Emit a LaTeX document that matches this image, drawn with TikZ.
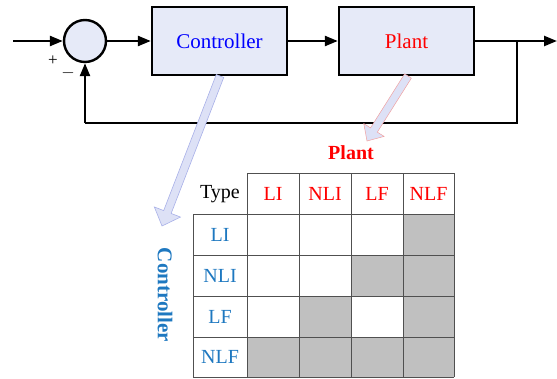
\documentclass[tikz,border=0pt]{standalone}
\usepackage{fontspec}
\setmainfont{Liberation Serif}
\usetikzlibrary{calc,arrows.meta}
\definecolor{boxfill}{HTML}{E6EAF8}
\definecolor{ctrlblue}{HTML}{1E78C0}
\definecolor{cellgrey}{HTML}{C0C0C0}
\definecolor{gridline}{HTML}{505050}
\definecolor{fatfill}{HTML}{DDE1F6}
\definecolor{fatblue}{HTML}{A8B0E8}
\definecolor{fatred}{HTML}{F0A0A0}
\tikzset{
  blockbox/.style={draw, line width=2.4pt, fill=boxfill, minimum width=135pt, minimum height=68pt, font=\fontsize{21}{24}\selectfont},
  sumnode/.style={draw, circle, line width=2.4pt, fill=boxfill, minimum size=42pt, inner sep=0pt},
  sig/.style={line width=2.4pt, -{Triangle[length=13pt,width=10pt]}},
  wire/.style={line width=2.4pt},
  cellgrid/.style={draw=gridline, line width=1pt},
  tabtext/.style={font=\fontsize{20}{23}\selectfont},
}
% fat hollow arrow: #1 start, #2 tip, #3 shaft half-width, #4 head half-width, #5 head length, #6 style
\newcommand{\fatarrow}[6]{%
  \path coordinate (fa-h) at ($(#2)!#5!(#1)$);
  \draw[#6]
    ($(#1)!#3!-90:(#2)$) -- ($(fa-h)!#3!90:(#1)$) -- ($(fa-h)!#4!90:(#1)$) -- (#2)
    -- ($(fa-h)!#4!-90:(#1)$) -- ($(fa-h)!#3!-90:(#1)$) -- ($(#1)!#3!90:(#2)$) -- cycle;
}
\begin{document}
\begin{tikzpicture}[x=1pt,y=-1pt]
\useasboundingbox (0,0) rectangle (557,378);

% block diagram
\coordinate (in) at (13,41);
\node[sumnode] (sum) at (85,41) {};
\node[blockbox, text=blue] (ctrl) at (219.5,41) {Controller};
\node[blockbox, text=red] (plant) at (406.5,41) {Plant};
\coordinate (branch) at (517,41);
\coordinate (out) at (557,41);
\coordinate (fbR) at (517,123);
\coordinate (fbL) at (85,123);

\draw[sig] (in) -- (sum.west);
\draw[sig] (sum.east) -- (ctrl.west);
\draw[sig] (ctrl.east) -- (plant.west);
\draw[sig] (plant.east) -- (out);
\draw[wire] (branch) -- (fbR) -- (fbL);
\draw[sig] (fbL) -- (sum.south);
\node[font=\fontsize{17}{19}\selectfont] (plus) at (53,61) {+};
\node[font=\fontsize{17}{19}\selectfont] (minus) at (68,73) {$-$};

% hollow pointer arrows
\coordinate (ca1) at (220,76);
\coordinate (ca2) at (162,226);
\fatarrow{ca1}{ca2}{4pt}{14pt}{15pt}{draw=fatblue, fill=fatfill, line width=0.6pt}
\coordinate (pa1) at (408,76);
\coordinate (pa2) at (367,141);
\fatarrow{pa1}{pa2}{4pt}{12pt}{13pt}{draw=fatred, fill=fatfill, line width=0.5pt}

% axis labels
\node[font=\bfseries\fontsize{20}{23}\selectfont, text=red] (plantlbl) at (351,153) {Plant};
\node[font=\bfseries\fontsize{21}{24}\selectfont, text=ctrlblue, rotate=-90] (ctrllbl) at (165,295) {Controller};

% combination table
\def\cx{{193,247,299,351,403,454}}
\def\ry{{173,214,255,296,337,377}}
% shaded cells (row, column) with rows/columns counted from 1
\foreach \r/\c in {1/4, 2/3, 2/4, 3/2, 3/4, 4/1, 4/2, 4/3, 4/4}{
  \pgfmathsetmacro{\xa}{\cx[\c]}\pgfmathsetmacro{\xb}{\cx[\c+1]}
  \pgfmathsetmacro{\ya}{\ry[\r]}\pgfmathsetmacro{\yb}{\ry[\r+1]}
  \fill[cellgrey] (\xa,\ya) rectangle (\xb,\yb);
}
% grid lines
\draw[cellgrid] (247,173) -- (454,173);
\foreach \y in {214,255,296,337,377} \draw[cellgrid] (193,\y) -- (454,\y);
\draw[cellgrid] (193,214) -- (193,377);
\foreach \x in {247,299,351,403,454} \draw[cellgrid] (\x,173) -- (\x,377);

\node[tabtext] (type) at (220,194) {Type};
\node[tabtext, text=red] (hLI) at (273,194) {LI};
\node[tabtext, text=red] (hNLI) at (325,194) {NLI};
\node[tabtext, text=red] (hLF) at (377,194) {LF};
\node[tabtext, text=red] (hNLF) at (428.5,194) {NLF};
\node[tabtext, text=ctrlblue] (rLI) at (220,235) {LI};
\node[tabtext, text=ctrlblue] (rNLI) at (220,276) {NLI};
\node[tabtext, text=ctrlblue] (rLF) at (220,317) {LF};
\node[tabtext, text=ctrlblue] (rNLF) at (220,357) {NLF};
\end{tikzpicture}
\end{document}
